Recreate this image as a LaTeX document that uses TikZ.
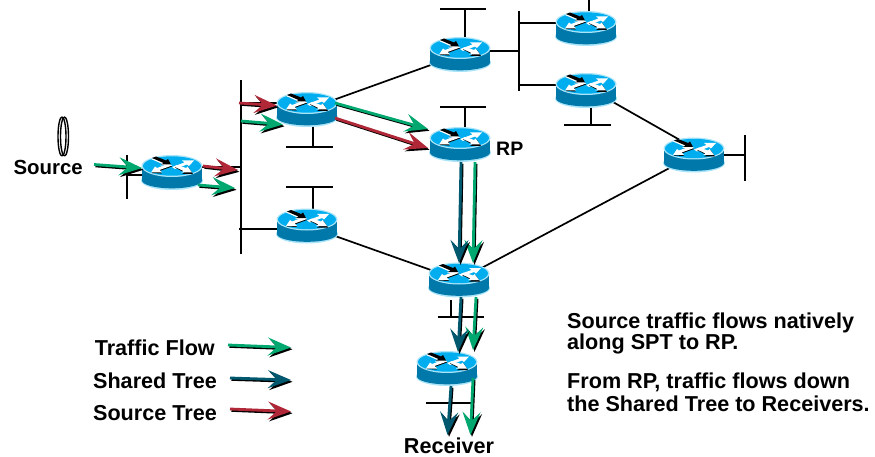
\documentclass[tikz,border=0pt]{standalone}
\usepackage{fontspec}
\setmainfont{Liberation Sans}
\usetikzlibrary{arrows.meta,backgrounds}
\definecolor{routertop}{RGB}{0,174,239}
\definecolor{routerside}{RGB}{0,120,170}
\definecolor{routerhalo}{RGB}{170,228,248}
\definecolor{flowgreen}{RGB}{0,168,112}
\definecolor{flowteal}{RGB}{0,88,110}
\definecolor{flowred}{RGB}{176,40,56}
\newcommand{\routerglyph}{%
	\begin{scope}[shift={(path picture bounding box.center)}]
		\fill[routerhalo] (0,8) ellipse (31 and 9.5);
		\fill[routerside] (0,8) ellipse (30 and 7.8);
		\fill[routerside] (-30,-6.5) rectangle (30,8);
		\fill[routerhalo] (0,-6.5) ellipse (30.5 and 11);
		\fill[routertop] (0,-6.5) ellipse (29 and 9.7);
		% upper right and lower left
		\fill[black] (-20,0.5)--(-10,1)--(-12.5,-1.5)--(0,-6)--(-3,-8)--(-15,-3.5)--(-17,-5)--cycle;
		\fill[white] (22,-12)--(10,-12)--(12.5,-10)--(0,-5.5)--(3,-3.5)--(15,-8)--(17,-6.5)--cycle;
		\fill[white] (-21,0)--(-10,0)--(-12.5,-2.5)--(0,-7)--(-3,-9)--(-15,-4.5)--(-17,-6)--cycle;
		% upper left and lower right
		\fill[white] (-21,-13.5)--(-17,-15)--(-7,-11)--(-5,-12.5)--(-2,-7)--(-12,-7)--(-9.5,-8.5)--cycle;
		\fill[black] (-20,-14.5)--(-16,-16)--(-6,-12)--(-4,-13.5)--(-1,-8)--(-11,-8)--(-8.5,-9.5)--cycle;
		\fill[black] (3,-5)--(6,-6.5)--(15,-3.5)--(16.5,-5)--(21,1.5)--(10,1.5)--(12.5,0)--cycle;
		\fill[white] (2,-6)--(5,-7.5)--(14,-4.5)--(15.5,-6)--(20,0)--(9,0)--(11.5,-1.5)--cycle;
	\end{scope}}
\tikzset{
	routerbox/.style={minimum width=62pt,minimum height=36pt,inner sep=0pt,outer sep=0pt,path picture={\routerglyph}},
	wire/.style={line width=1.7pt,black},
	flowarrow/.style={line width=2.8pt,-{Stealth[length=23pt,width=18pt,inset=9pt]},
		preaction={draw=black,line width=2pt,transform canvas={xshift=1.5pt,yshift=-1.8pt}}},
	greenflow/.style={flowarrow,draw=flowgreen},
	tealflow/.style={flowarrow,draw=flowteal},
	redflow/.style={flowarrow,draw=flowred},
	lbl/.style={font=\fontsize{21.6}{21}\selectfont\bfseries,inner sep=0pt,align=left}
}
\begin{document}
\begin{tikzpicture}[x=1pt,y=-1pt,line join=round]
	\useasboundingbox (0,0) rectangle (875,457);
	% routers
	\foreach \rname/\rx/\ry in {rsrc/172/172.5,rupper/307/109.5,rlower/307/226,rtop/460/54.5,rp/460/144.5,rtr/586/28.5,rmr/586/90.5,rfar/694/155,rmid/459/280,rrecv/447/368.5}
		\node[routerbox] (\rname) at (\rx,\ry) {};
	% ends of the bars and buses
	\foreach \cname/\cx/\cy in {sa/127/155,sb/127/199,sc/127/175,sc2/160/175,sd/241/167,sd2/190/167,
		ba/241/80,bb/241/254,bc/239/103,bc2/290/103,bd/239/229,bd2/290/229,
		ua/286/147,ub/333/147,uc/313/147,ud/313/120,
		la/286/187,lb/333/187,lc/313/187,ld/313/220,
		ta/440/9,tb/486/9,tc/465/9,td/465/50,
		pa/440/107,pb/486/107,pc/465/107,pd/465/140,
		ra/519/11,rb/519/91,rc/519/51,rc2/470/51,rd/519/23,rd2/570/23,re/519/85,re2/570/85,
		tra/589/0,trb/589/20,mra/564/125,mrb/611/125,mrc/591/125,mrd/591/95,
		fa/745/135,fb/745/181,fc/745/155,
		ma/438/317,mb/484/317,mc/451/317,md/451/300,
		va/426/403,vb/472/403,vc/451/403,vd/451/375,
		da/590/89,db/694/148} 
		\coordinate (\cname) at (\cx,\cy);
	\begin{scope}[on background layer]
		\foreach \a/\b in {sa/sb,sc/sc2,sd2/sd,ba/bb,bc/bc2,bd/bd2,ua/ub,uc/ud,la/lb,lc/ld,ta/tb,tc/td,pa/pb,pc/pd,
			ra/rb,rc/rc2,rd/rd2,re/re2,tra/trb,mra/mrb,mrc/mrd,fa/fb,fc/rfar,ma/mb,mc/md,va/vb,vc/vd,
			rupper/rtop,da/db,rfar/rmid,rlower/rmid}
			\draw[wire] (\a.center)--(\b.center);
	\end{scope}
	% source
	\draw[line width=1.4pt] (62,136.5) ellipse (4 and 19.5);
	\draw[line width=1.4pt] (64.5,136.5) ellipse (4 and 19.5);
	% ends of the flows
	\foreach \cname/\cx/\cy in {fa1/94/164.5,fa2/142/168,fb1/203/166,fb2/238/170,fc1/198/185,fc2/235/188,
		fd1/239/103,fd2/277/105.5,fe1/241/121,fe2/283/124.5,ff1/335/103,ff2/428/129,fg1/335/118,fg2/428/148,
		fh1/461/162,fh2/459/263,fi1/475/162,fi2/473/263,fj1/461/297,fj2/458/352,fk1/476/297,fk2/473/350,
		fl1/451/386,fl2/447.5/435,fm1/473/378,fm2/470.5/435,
		ga1/228/345,ga2/291/347.5,gb1/230/378,gb2/291/380,gc1/230/409,gc2/291/411.5}
		\coordinate (\cname) at (\cx,\cy);
	\foreach \a/\b in {fa1/fa2,fc1/fc2,fe1/fe2,ff1/ff2,fi1/fi2,fk1/fk2,fm1/fm2,ga1/ga2}
		\draw[greenflow] (\a)--(\b);
	\foreach \a/\b in {fh1/fh2,fj1/fj2,fl1/fl2,gb1/gb2}
		\draw[tealflow] (\a)--(\b);
	\foreach \a/\b in {fb1/fb2,fd1/fd2,fg1/fg2,gc1/gc2}
		\draw[redflow] (\a)--(\b);
	% labels
	\node[lbl,anchor=east,font=\fontsize{20.4}{21}\selectfont\bfseries] (lsource) at (83,167) {Source};
	\node[lbl,anchor=west,font=\fontsize{19.5}{21}\selectfont\bfseries] (lrp) at (496,149) {RP};
	\node[lbl,anchor=center] (lrecv) at (449,446) {Receiver};
	\node[lbl,anchor=east] (ltraffic) at (215,348) {Traffic Flow};
	\node[lbl,anchor=east] (lshared) at (217,381) {Shared Tree};
	\node[lbl,anchor=east] (ltree) at (217,413) {Source Tree};
	\node[lbl,anchor=west] (ltexta) at (567,333) {Source traffic flows natively\\along SPT to RP.};
	\node[lbl,anchor=west] (ltextb) at (567,392) {From RP, traffic flows down\\[2pt]the Shared Tree to Receivers.};
\end{tikzpicture}
\end{document}
